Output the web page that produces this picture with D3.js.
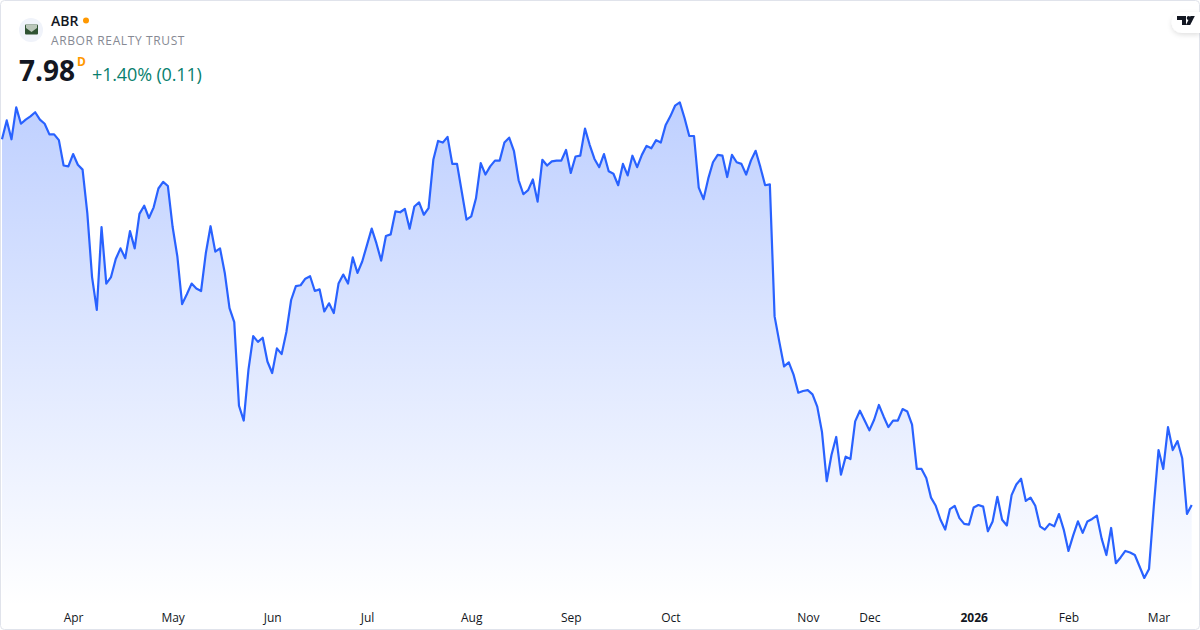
<!DOCTYPE html>
<html>
<head>
<meta charset="utf-8">
<script src="https://cdn.jsdelivr.net/npm/d3@7/dist/d3.min.js"></script>
<style>
html,body{margin:0;padding:0;background:#fff;overflow:hidden}
svg{display:block;font-family:"Open Sans","Noto Sans",sans-serif}
</style>
</head>
<body>
<svg id="chart" width="1200" height="630"></svg>
<script>
const closes = [12.44,12.67,12.44,12.83,12.63,12.68,12.72,12.77,12.68,12.63,12.50,12.50,12.43,12.12,12.11,12.26,12.13,12.07,11.54,10.76,10.36,11.37,10.68,10.76,10.98,11.11,10.99,11.32,11.11,11.53,11.63,11.48,11.61,11.84,11.92,11.87,11.37,11.01,10.43,10.55,10.68,10.62,10.59,11.05,11.38,11.07,11.11,10.81,10.38,10.21,9.19,9.01,9.63,10.04,9.97,10.02,9.73,9.59,9.89,9.82,10.09,10.48,10.65,10.66,10.74,10.77,10.59,10.61,10.34,10.44,10.32,10.68,10.79,10.68,11.00,10.81,10.95,11.15,11.35,11.17,10.96,11.26,11.28,11.56,11.55,11.59,11.35,11.62,11.67,11.52,11.60,12.19,12.42,12.40,12.47,12.14,12.14,11.80,11.46,11.50,11.72,12.15,12.01,12.11,12.18,12.18,12.40,12.46,12.30,11.94,11.77,11.82,11.95,11.68,12.19,12.12,12.17,12.18,12.18,12.31,12.03,12.23,12.24,12.57,12.37,12.20,12.10,12.26,12.05,12.02,11.88,12.14,12.00,12.24,12.10,12.25,12.36,12.33,12.43,12.40,12.61,12.72,12.85,12.89,12.70,12.48,12.48,11.85,11.71,11.96,12.16,12.25,12.24,11.98,12.25,12.16,12.14,12.01,12.18,12.30,12.10,11.88,11.89,10.28,9.97,9.67,9.72,9.57,9.35,9.37,9.38,9.33,9.18,8.87,8.27,8.59,8.81,8.35,8.57,8.54,9.00,9.13,9.01,8.89,9.02,9.20,9.06,8.93,9.01,9.01,9.15,9.12,8.96,8.42,8.42,8.31,8.07,7.97,7.80,7.68,7.93,7.97,7.82,7.75,7.74,7.95,7.98,7.96,7.66,7.78,8.08,7.80,7.73,8.10,8.23,8.30,8.03,8.07,7.97,7.72,7.68,7.75,7.72,7.87,7.68,7.42,7.61,7.78,7.64,7.78,7.81,7.85,7.57,7.37,7.70,7.27,7.34,7.42,7.40,7.37,7.23,7.09,7.20,7.96,8.65,8.42,8.93,8.65,8.76,8.55,7.87,7.98];
const tickLabels = ["Apr","May","Jun","Jul","Aug","Sep","Oct","Nov","Dec","2026","Feb","Mar"];
const tickIndex = [15,36,57,77,99,120,141,170,183,205,225,244];
const symbol = "ABR";
const company = "ARBOR REALTY TRUST";
const lastPrice = "7.98";
const interval = "D";
const change = "+1.40% (0.11)";

const W = 1200, H = 630;
const svg = d3.select("#chart");
const x = d3.scaleLinear().domain([0, closes.length - 1]).range([2, 1191.7]);
const y = d3.scaleLinear().domain([7.98, 12.89]).range([505, 102.4]);
const baseY = 606;

const defs = svg.append("defs");
const grad = defs.append("linearGradient").attr("id","fillGrad").attr("gradientUnits","userSpaceOnUse")
  .attr("x1",0).attr("x2",0).attr("y1",y(d3.max(closes))).attr("y2",baseY);
grad.append("stop").attr("offset",0).attr("stop-color","#2962FF").attr("stop-opacity",0.3);
grad.append("stop").attr("offset",1).attr("stop-color","#2962FF").attr("stop-opacity",0);
const shadow = defs.append("filter").attr("id","pillShadow").attr("x","-30%").attr("y","-40%").attr("width","160%").attr("height","200%");
shadow.append("feDropShadow").attr("dx",0).attr("dy",2).attr("stdDeviation",2.5).attr("flood-color","#000").attr("flood-opacity",0.12);

svg.append("rect").attr("width",W).attr("height",H).attr("fill","#fff");

const area = d3.area().x((d,i)=>x(i)).y0(baseY).y1(d=>y(d));
const line = d3.line().x((d,i)=>x(i)).y(d=>y(d));
svg.append("path").datum(closes).attr("d",area).attr("fill","url(#fillGrad)");
svg.append("path").datum(closes).attr("d",line).attr("fill","none")
  .attr("stroke","#2962FF").attr("stroke-width",2.2).attr("stroke-linejoin","round");

const axis = d3.axisBottom(x).tickValues(tickIndex).tickSize(0).tickPadding(0)
  .tickFormat((d,i)=>tickLabels[i]);
const gx = svg.append("g").attr("transform","translate(0,613)").call(axis);
gx.select(".domain").remove();
gx.selectAll("text").attr("font-size",12).attr("fill","#131722")
  .attr("font-family",'"Open Sans","Noto Sans",sans-serif')
  .attr("font-weight",(d,i)=>tickLabels[i]==="2026"?700:400)
  .attr("dy","0.75em");

// frame
svg.append("rect").attr("x",0.5).attr("y",0.5).attr("width",W-1).attr("height",H-1).attr("rx",4)
  .attr("fill","none").attr("stroke","#e0e3eb");

// header
svg.append("circle").attr("cx",31).attr("cy",30).attr("r",12).attr("fill","#f0f3fa");
const logo = svg.append("g").attr("transform","translate(25,24.5)");
logo.append("rect").attr("width",13).attr("height",10).attr("rx",1).attr("fill","#2f5233");
logo.append("path").attr("d","M1 0H12V3.5L6.5 7.5L1 3.5Z").attr("fill","#b9c6b9");
svg.append("text").attr("x",51).attr("y",26).attr("font-size",14).attr("font-weight",600).attr("fill","#131722").text(symbol);
svg.append("circle").attr("cx",86).attr("cy",20.5).attr("r",3).attr("fill","#ff9800");
svg.append("text").attr("x",51).attr("y",45).attr("font-size",12).attr("letter-spacing",0.62).attr("fill","#868993").text(company);
svg.append("text").attr("x",19).attr("y",81).attr("font-size",28).attr("font-weight",700).attr("fill","#131722").text(lastPrice);
svg.append("text").attr("x",77).attr("y",66).attr("font-size",12).attr("font-weight",700).attr("fill","#ff9800").text(interval);
svg.append("text").attr("x",92).attr("y",81).attr("font-size",18).attr("letter-spacing",-0.15).attr("fill","#087f6e").text(change);

// brand pill
svg.append("path").attr("d","M1200 12H1182A10.5 10.5 0 0 0 1182 33H1200Z").attr("fill","#fff").attr("filter","url(#pillShadow)");
const tv = svg.append("g").attr("fill","#131722");
tv.append("path").attr("d","M1177 16H1186V25H1182V20H1177Z");
tv.append("circle").attr("cx",1188.6).attr("cy",18).attr("r",1.9);
tv.append("path").attr("d","M1190.5 16H1194.8L1190.2 25H1185.9Z");
</script>
</body>
</html>
